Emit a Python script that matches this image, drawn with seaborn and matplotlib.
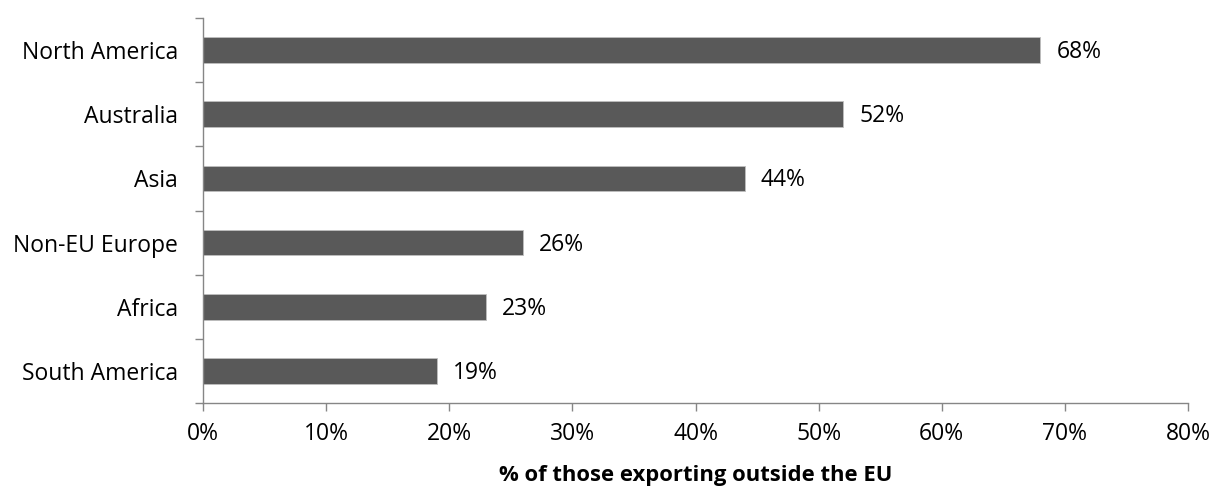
import matplotlib
matplotlib.use("Agg")
import matplotlib.pyplot as plt
import seaborn as sns
import pandas as pd
import numpy as np
from matplotlib.ticker import FixedLocator, PercentFormatter

regions = ["North America", "Australia", "Asia", "Non-EU Europe", "Africa", "South America"]
shares = [68, 52, 44, 26, 23, 19]
x_ticks = [0, 10, 20, 30, 40, 50, 60, 70, 80]
x_label = "% of those exporting outside the EU"

sns.set_theme(style="white")
plt.rcParams["font.family"] = ["Open Sans", "DejaVu Sans"]

FS = 16.5

df = pd.DataFrame({"region": regions, "share": shares})

fig = plt.figure(figsize=(12.15, 4.91), dpi=100)
ax = fig.add_axes([0.1671, 0.1792, 0.8107, 0.7841])

sns.barplot(data=df, x="share", y="region", order=regions, orient="h",
            color="#595959", width=0.4, saturation=1, ax=ax,
            edgecolor="#bfbfbf", linewidth=0.6)

for patch, val in zip(ax.patches, shares):
    y = patch.get_y() + patch.get_height() / 2
    ax.text(val + 1.3, y + 0.03, f"{val}%", va="center", ha="left",
            fontsize=FS, color="#000000")

ax.set_xlim(0, 80)
ax.set_ylim(len(regions) - 0.5, -0.5)
ax.xaxis.set_major_locator(FixedLocator(x_ticks))
ax.xaxis.set_major_formatter(PercentFormatter(decimals=0))

# category boundaries carry the y tick marks
ax.yaxis.set_minor_locator(FixedLocator(np.arange(-0.5, len(regions), 1.0)))
ax.tick_params(axis="y", which="major", length=0, pad=18, labelsize=FS, colors="#000000")
ax.tick_params(axis="y", which="minor", length=6, width=1, color="#868686", direction="out", left=True)
ax.tick_params(axis="x", which="major", length=6, width=1, color="#868686", direction="out",
               bottom=True, labelsize=FS, labelcolor="#000000", pad=8)

for side in ["top", "right"]:
    ax.spines[side].set_visible(False)
for side in ["left", "bottom"]:
    ax.spines[side].set_color("#868686")
    ax.spines[side].set_linewidth(1)

ax.set_ylabel("")
ax.set_xlabel(x_label, fontsize=15.8, fontweight="bold", labelpad=13, color="#000000")
ax.grid(False)

fig.savefig("out.png", dpi=100, facecolor="white")
